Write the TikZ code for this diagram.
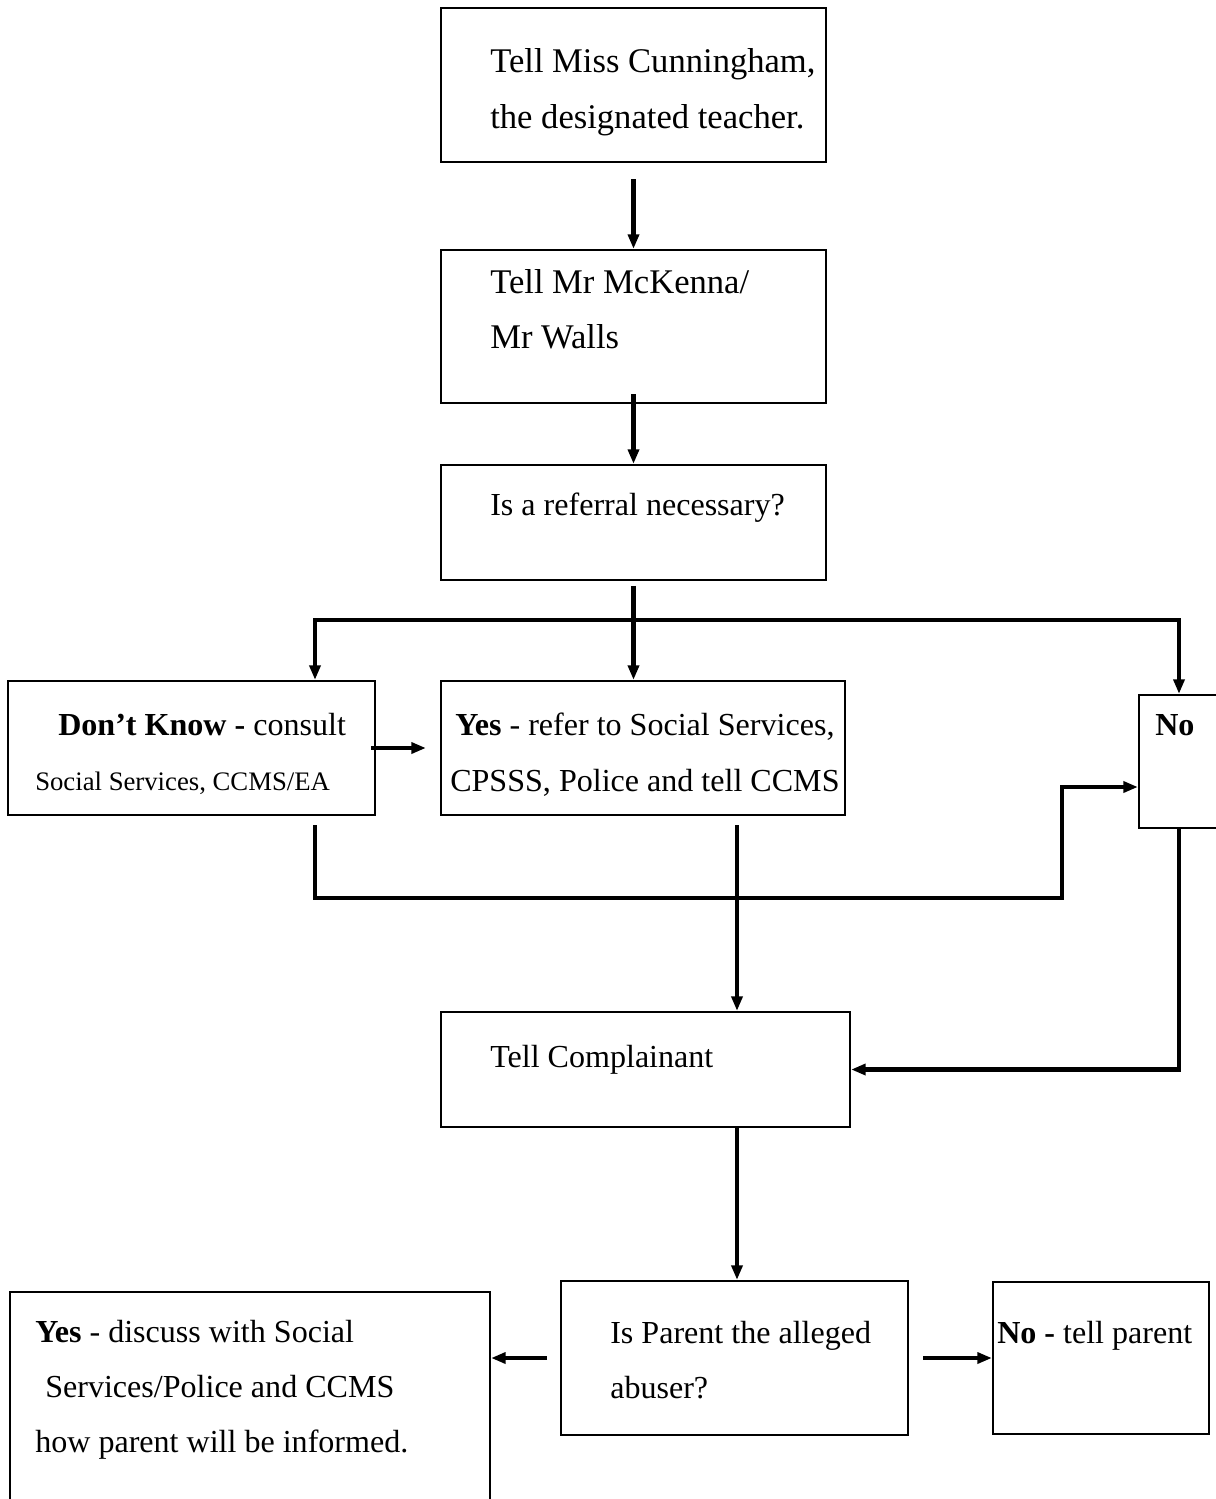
\documentclass[tikz,border=0pt]{standalone}
\usepackage{fontspec}
\setmainfont{Liberation Serif}
\usetikzlibrary{arrows.meta,positioning}
\tikzset{
  box/.style 2 args={rectangle, draw=black, line width=1.6pt, inner sep=0pt,
                     minimum width=#1*0.025cm, minimum height=#2*0.025cm},
  txt/.style ={inner sep=0pt, anchor=base west, font=\fontsize{22.8}{28}\selectfont},
  wide/.style={txt, font=\fontsize{24.6}{30}\selectfont},
  sml/.style ={txt, font=\fontsize{19}{23}\selectfont},
  wire/.style={line width=3.2pt},
  arr/.style ={wire, -{Triangle[length=3.6mm, width=2.7mm]}},
}
\begin{document}
\begin{tikzpicture}[x=0.025cm, y=-0.025cm]
  \useasboundingbox (0,0) rectangle (1216,1499);

  % boxes
  \node[box={385}{154}] (tell1)  at (633.5,85)    {};
  \node[box={385}{153}] (tell2)  at (633.5,326.5) {};
  \node[box={385}{115}] (refer)  at (633.5,522.5) {};
  \node[box={367}{134}] (dk)     at (191.5,748)   {};
  \node[box={404}{134}] (yes)    at (643,748)     {};
  \node[box={111}{133}] (no)     at (1194.5,761.5) {};
  \node[box={409}{115}] (compl)  at (645.5,1069.5) {};
  \node[box={347}{154}] (parent) at (734.5,1358)  {};
  \node[box={480}{238}] (discuss) at (250,1411)   {};
  \node[box={216}{152}] (notell) at (1101,1358)   {};

  % texts
  \node[wide] (tell1a) at (490,72)  {Tell Miss Cunningham,};
  \node[wide] (tell1b) at (490,128) {the designated teacher.};
  \node[wide] (tell2a) at (490,293) {Tell Mr McKenna/};
  \node[wide] (tell2b) at (490,348) {Mr Walls};
  \node[txt] (refera) at (490,515) {Is a referral necessary?};
  \node[txt] (dka)    at (58,735)  {\textbf{Don't Know -} consult};
  \node[sml] (dkb)    at (35,790)  {Social Services, CCMS/EA};
  \node[txt] (yesa)   at (455,735) {\textbf{Yes} - refer to Social Services,};
  \node[txt] (yesb)   at (450,791) {CPSSS, Police and tell CCMS};
  \node[txt] (noa)    at (1155,735) {\textbf{No}};
  \node[txt] (compla) at (490,1067) {Tell Complainant};
  \node[txt] (parenta) at (610,1343) {Is Parent the alleged};
  \node[txt] (parentb) at (610,1398) {abuser?};
  \node[txt] (discussa) at (35,1342) {\textbf{Yes} - discuss with Social};
  \node[txt] (discussb) at (45,1397) {Services/Police and CCMS};
  \node[txt] (discussc) at (35,1452) {how parent will be informed.};
  \node[txt] (notella) at (997,1343) {\textbf{No -} tell parent};

  % junctions
  \coordinate (lj) at (315,620);
  \coordinate (rj) at (1179,620);
  \coordinate (dkout) at (315,825);
  \coordinate (nobend) at (1062,787);
  \coordinate (yout) at (737,825);

  % connectors
  \draw[arr, shorten <=4mm] (tell1) -- (tell2);
  \draw[arr, shorten <=-2.5mm] (tell2) -- (refer);
  \draw[arr, shorten <=1.2mm] (refer.south) -- (refer.south |- yes.north);
  \draw[wire, {Triangle[length=3.6mm, width=2.7mm]}-{Triangle[length=3.6mm, width=2.7mm]}]
       (lj |- dk.north) -- (lj) -- (rj) -- (rj |- no.north);
  \draw[arr, shorten <=-1.2mm, shorten >=3.5mm] (dk.east) -- (dk.east -| yes.west);
  \draw[arr] (dkout) |- (nobend |- 0,898) -- (nobend) -- (nobend -| no.west);
  \draw[arr] (yout) -- (yout |- compl.north);
  \draw[arr] (rj |- no.south) |- (compl.east);
  \draw[arr] (yout |- compl.south) -- (yout |- parent.north);
  \draw[arr, shorten <=3.2mm] (parent.west) -- (parent.west -| discuss.east);
  \draw[arr, shorten <=3.5mm] (parent.east) -- (parent.east -| notell.west);
\end{tikzpicture}
\end{document}
